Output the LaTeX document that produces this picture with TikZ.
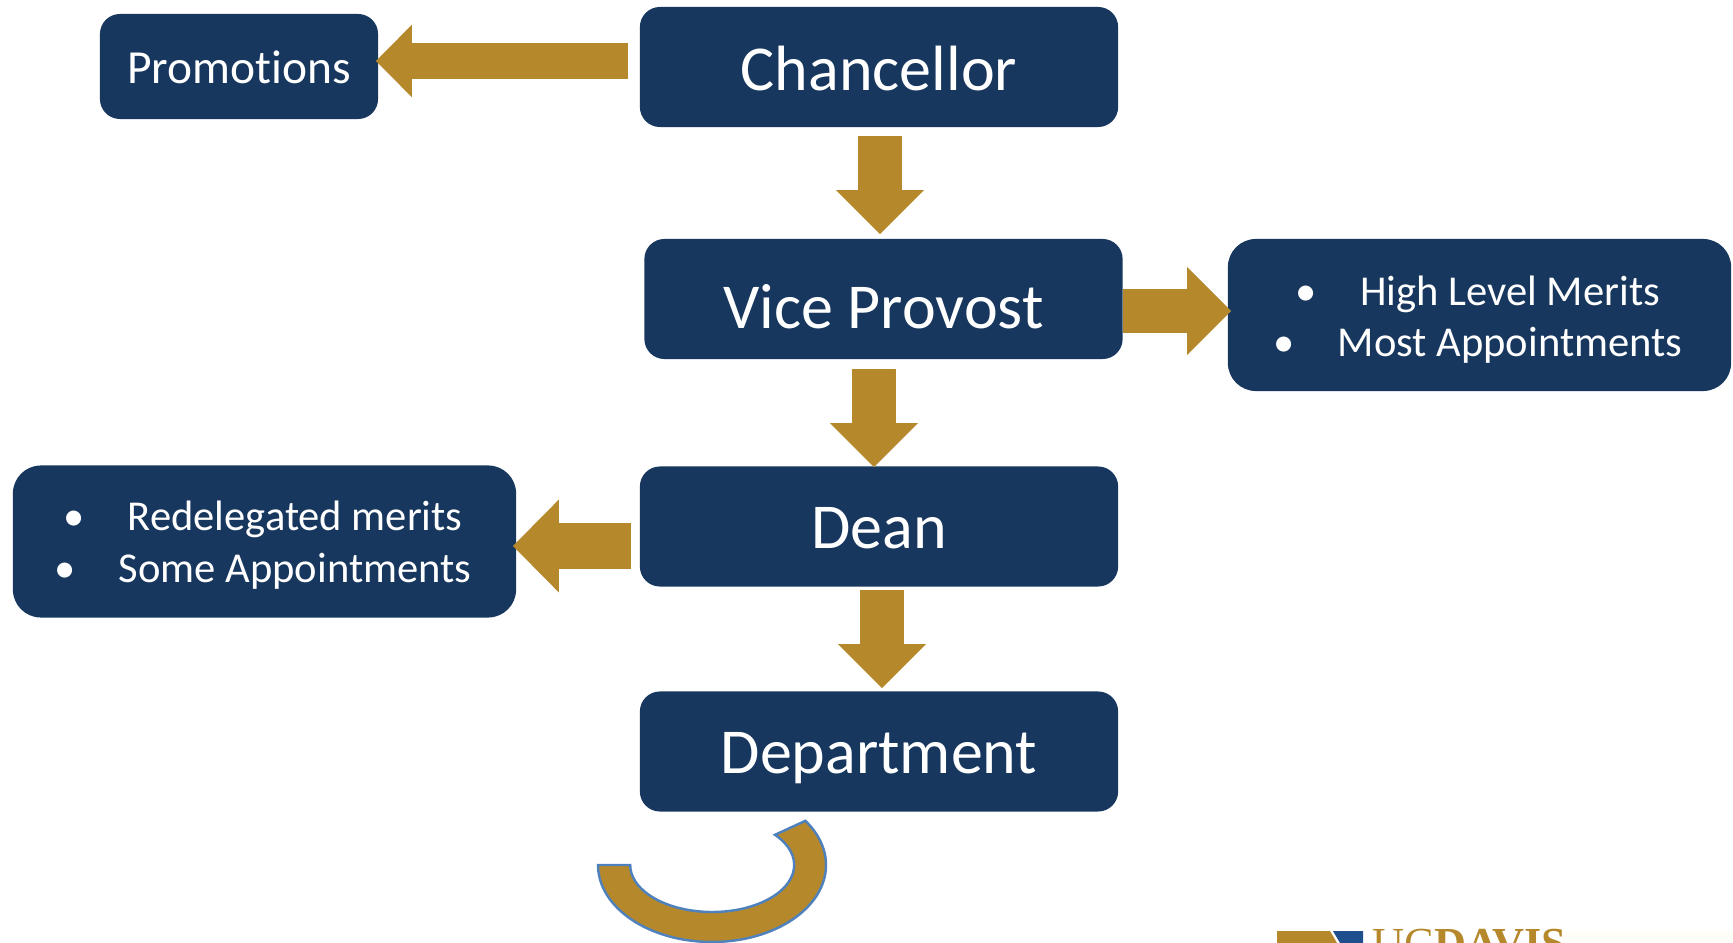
\documentclass[tikz,border=0pt]{standalone}
\usepackage{fontspec}
\setmainfont[Ligatures=NoCommon]{Carlito}
\newfontfamily\logofont{Liberation Serif}
\usetikzlibrary{arrows.meta}
\definecolor{navy}{HTML}{17375E}
\definecolor{gold}{HTML}{B5892B}
\definecolor{arcedge}{HTML}{4F81BD}
\definecolor{logoblue}{HTML}{1F4E8C}
\definecolor{logopaper}{HTML}{FFFDF8}
\begin{document}
\begin{tikzpicture}[x=0.01cm,y=-0.01cm]
	\tikzstyle{office}=[fill=navy,text=white,rounded corners=20*0.2845pt,inner sep=0pt,minimum width=478*0.2845pt,minimum height=120*0.2845pt,font=\fontsize{18.2}{21}\selectfont]
	\tikzstyle{duty}=[fill=navy,text=white,rounded corners=28*0.2845pt,inner sep=0pt,align=center,minimum width=503*0.2845pt,minimum height=152*0.2845pt,font=\fontsize{12.1}{14.7}\selectfont]
	\tikzstyle{flow}=[draw=gold,line width=44*0.2845pt,-{Triangle[length=44*0.2845pt,width=85*0.2845pt,fill=gold]}]

	\useasboundingbox (0,0) rectangle (1733,943);

	\node[office](chan) at (879,67){\raisebox{-0.3pt}[\height][\depth]{Chancellor}};
	\node[office](vice) at (883.5,299){\raisebox{-2.2pt}[\height][\depth]{Vice Provost}};
	\node[office](dean) at (879,526.5){\raisebox{-0.6pt}[\height][\depth]{Dean}};
	\node[office](dept) at (879,751.5){\raisebox{-1.9pt}[\height][\depth]{Department}};
	\node[office,minimum width=278*0.2845pt,minimum height=105*0.2845pt,font=\fontsize{13.5}{15}\selectfont](promo) at (239,66.5){\raisebox{-0.3pt}[\height][\depth]{Promotions}};
	\node[duty](high) at (1479.5,315){\rule{0pt}{11pt}\textbullet\hspace{12.3pt}High Level Merits\hspace*{0.9pt}\\\textbullet\hspace{12.3pt}Most Appointments\hspace*{0.9pt}};
	\node[duty](rede) at (264.5,541.5){\rule{0pt}{10.6pt}\textbullet\hspace{12.3pt}Redelegated merits\hspace*{0.9pt}\\\textbullet\hspace{12.3pt}Some Appointments\hspace*{0.9pt}};

	\draw[flow,line width=36*0.2845pt,{Triangle[length=36*0.2845pt,width=70*0.2845pt,fill=gold]}-] ([shift={(-3,-5.5)}]promo.east) -- ([shift={(-11,-6)}]chan.west);
	\draw[flow] ([shift={(1,8)}]chan.south) -- ([shift={(-3.5,-4)}]vice.north);
	\draw[flow] ([shift={(-9.5,9)}]vice.south) -- ([shift={(-5,1.5)}]dean.north);
	\draw[flow] ([shift={(3,3)}]dean.south) -- ([shift={(3,-2.5)}]dept.north);
	\draw[flow] ([shift={(0,12)}]vice.east) -- ([shift={(4,-4)}]high.west);
	\draw[flow,line width=46*0.2845pt,-{Triangle[length=46*0.2845pt,width=90*0.2845pt,fill=gold]}] ([shift={(-8,19.5)}]dean.west) -- ([shift={(-4,4.5)}]rede.east);

	% swoosh under the last box
	\fill[gold,draw=arcedge,line width=0.7pt] (598,865) arc[start angle=180,end angle=-35,x radius=114,y radius=77] -- (775,834.8) arc[start angle=-40,end angle=180,x radius=82,y radius=47] -- cycle;

	% logo, cut by the page edge
	\begin{scope}
		\clip (0,0) rectangle (1733,943);
		\fill[logopaper] (1562,931) rectangle (1733,943);
		\fill[gold] (1277,931) -- (1330,931) -- (1337,943) -- (1277,943) -- cycle;
		\fill[logoblue] (1333,931) -- (1363,931) -- (1363,943) -- (1340,943) -- cycle;
		\node[inner sep=0pt,anchor=north west,text=gold,font=\logofont\fontsize{12.6}{13}\selectfont](logo) at (1372,928){UC\textbf{DAVIS}};
	\end{scope}
\end{tikzpicture}
\end{document}
